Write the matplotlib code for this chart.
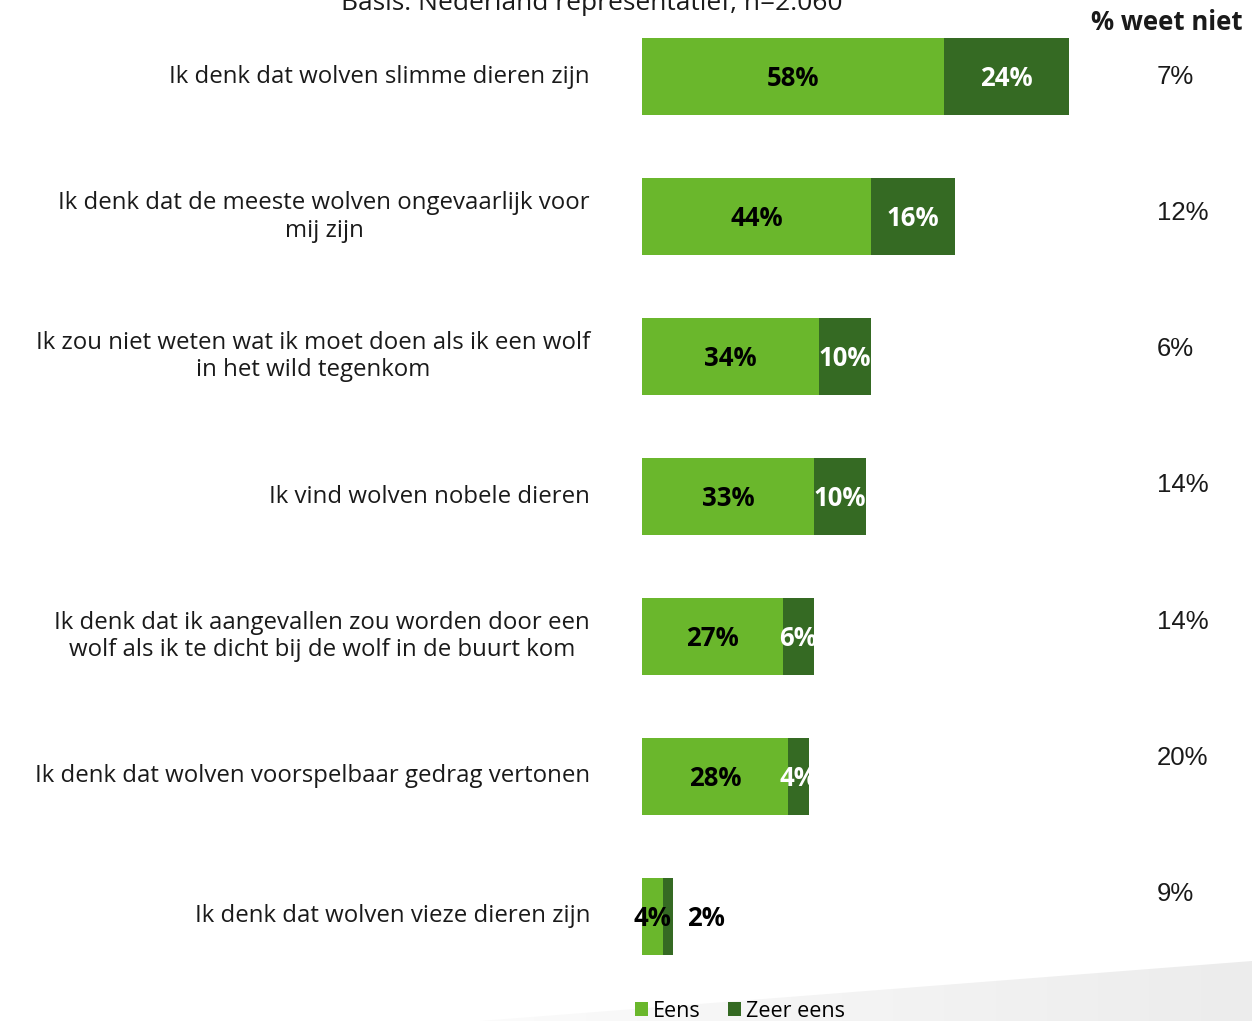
import matplotlib
matplotlib.use("Agg")
import matplotlib.pyplot as plt
import matplotlib.transforms as mtransforms
import numpy as np
from matplotlib.patches import Polygon, Rectangle

categories = [
    "Ik denk dat wolven slimme dieren zijn",
    "Ik denk dat de meeste wolven ongevaarlijk voor\nmij zijn",
    "Ik zou niet weten wat ik moet doen als ik een wolf\nin het wild tegenkom",
    "Ik vind wolven nobele dieren",
    "Ik denk dat ik aangevallen zou worden door een\nwolf als ik te dicht bij de wolf in de buurt kom",
    "Ik denk dat wolven voorspelbaar gedrag vertonen",
    "Ik denk dat wolven vieze dieren zijn",
]
eens = [58, 44, 34, 33, 27, 28, 4]
zeer_eens = [24, 16, 10, 10, 6, 4, 2]
weet_niet = [7, 12, 6, 14, 14, 20, 9]
series_names = ["Eens", "Zeer eens"]
title = "Basis: Nederland representatief, n=2.060"
header = "% weet niet"

LIGHT = "#6ab72c"
DARK = "#356a23"
FONT = ["Open Sans", "DejaVu Sans"]

W, H = 1252, 1021
fig = plt.figure(figsize=(W / 100, H / 100), dpi=100)
fig.patch.set_facecolor("white")

# background swoosh (bottom right)
bg = fig.add_axes([0, 0, 1, 1], zorder=-5)
bg.set_xlim(0, W)
bg.set_ylim(H, 0)
bg.axis("off")
grad = np.linspace(0, 1, 256).reshape(1, -1)
cmap = matplotlib.colors.LinearSegmentedColormap.from_list("g", ["#fbfbfb", "#ececec"])
im = bg.imshow(np.vstack([grad] * 2), extent=[480, W, H, 955], cmap=cmap, aspect="auto", zorder=-5)
poly = Polygon([[480, H], [W, 961], [W, H]], closed=True, facecolor="none", edgecolor="none")
bg.add_patch(poly)
im.set_clip_path(poly)

left = 642 / W
width = 521 / W
bottom = (H - 986) / H
height = (986 - 7) / H
ax = fig.add_axes([left, bottom, width, height])
ax.set_xlim(0, 100)
ax.set_ylim(len(categories) - 0.5, -0.5)
ax.axis("off")

y = np.arange(len(categories))
bh = 0.55
b1 = ax.barh(y, eens, height=bh, color=LIGHT, label=series_names[0])
b2 = ax.barh(y, zeer_eens, left=eens, height=bh, color=DARK, label=series_names[1])

label_font = dict(family=FONT, fontsize=18.5, fontweight="bold")
tr = mtransforms.offset_copy(ax.transData, fig=fig, x=0, y=-2, units="dots")
tr_out = mtransforms.offset_copy(ax.transData, fig=fig, x=14, y=-2, units="dots")
for i in range(len(categories)):
    ax.text(eens[i] / 2, y[i], f"{eens[i]}%", transform=tr,
            ha="center", va="center", color="black", **label_font)
    if zeer_eens[i] >= 4:
        t = ax.text(eens[i] + zeer_eens[i] / 2, y[i], f"{zeer_eens[i]}%", transform=tr,
                    ha="center", va="center", color="white", **label_font)
        clip = Rectangle((0, y[i] - bh / 2), eens[i] + zeer_eens[i], bh, transform=ax.transData)
        t.set_clip_path(clip)
    else:
        ax.text(eens[i] + zeer_eens[i], y[i], f"{zeer_eens[i]}%", transform=tr_out,
                ha="left", va="center", color="black", **label_font)

# category labels
for i, c in enumerate(categories):
    ax.annotate(c, xy=(0, y[i]), xycoords="data", xytext=(-52, 0), textcoords="offset pixels",
                ha="right", va="center", multialignment="center",
                family=FONT, fontsize=17.3, color="#1a1a1a", linespacing=1.2)

# weet niet column
for i, v in enumerate(weet_niet):
    ax.annotate(f"{v}%", xy=(100, y[i]), xycoords="data", xytext=(-6, 0 + 3.7 * i), textcoords="offset pixels",
                ha="left", va="center", family=["Liberation Sans", "DejaVu Sans"], fontsize=18.5, color="#1a1a1a")

fig.text(1243 / W, 1 - 22 / H, header, ha="right", va="center", family=FONT,
         fontsize=18.5, fontweight="bold", color="#1a1a1a")
fig.text(592 / W, 1 - 3 / H, title, ha="center", va="center", family=FONT,
         fontsize=19, color="#1a1a1a")

leg = fig.legend(handles=[b1, b2], labels=series_names, loc="center", bbox_to_anchor=(740 / W, 1 - 1011 / H),
                 ncol=2, frameon=False, handlelength=0.6, handleheight=0.6, handletextpad=0.2,
                 columnspacing=1.3, borderpad=0.2, prop=dict(family=FONT, size=15.5))

fig.savefig("out.png", dpi=100, facecolor="white")
